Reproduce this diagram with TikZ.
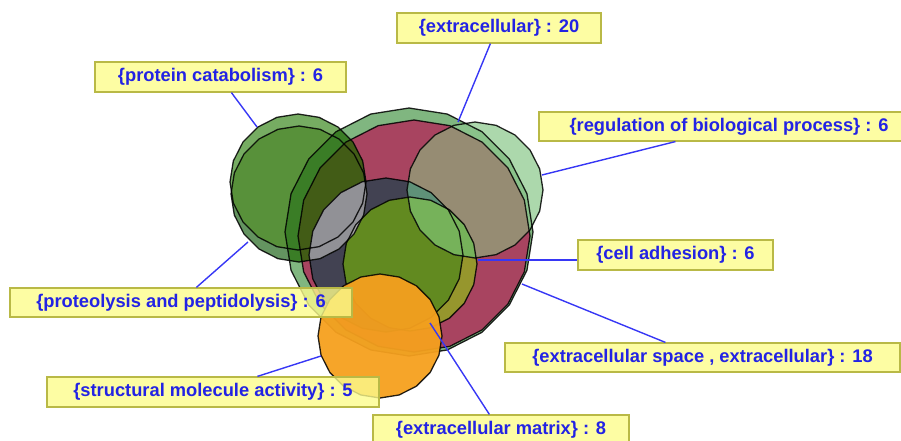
\documentclass[tikz,border=0pt]{standalone}
\usepackage{fontspec}
\setmainfont{Liberation Sans}
\usetikzlibrary{calc}
\definecolor{cEtw}{RGB}{128,182,128}
\definecolor{cRed}{RGB}{168,68,96}
\definecolor{cMat}{RGB}{66,66,82}
\definecolor{cAdh}{RGB}{150,150,45}
\definecolor{cAdhMat}{RGB}{98,138,32}
\definecolor{cAonly}{RGB}{118,172,98}
\definecolor{cBonly}{RGB}{100,148,96}
\definecolor{cAB}{RGB}{88,145,58}
\definecolor{cABe}{RGB}{58,125,38}
\definecolor{cABred}{RGB}{66,92,22}
\definecolor{cABmat}{RGB}{145,145,150}
\definecolor{cABadh}{RGB}{165,165,165}
\definecolor{cRegW}{RGB}{172,216,172}
\definecolor{cRegE}{RGB}{138,194,138}
\definecolor{cRegRed}{RGB}{150,140,115}
\definecolor{cRegMat}{RGB}{95,145,120}
\definecolor{cRegAdh}{RGB}{118,178,90}
\definecolor{cOr}{RGB}{245,160,30}
\definecolor{cLab}{RGB}{252,252,140}
\definecolor{cLabB}{RGB}{185,185,70}
\definecolor{cTxt}{RGB}{35,35,228}
\definecolor{cConn}{RGB}{55,55,245}
\newcommand{\vpoly}[3]{plot[samples=21,domain=0:360,variable=\t]({#1+#3*cos(\t)},{#2+#3*sin(\t)}) -- cycle}
\tikzset{
  outl/.style={draw=black, draw opacity=0.85, line width=1.3pt, line join=round},
  conn/.style={draw=cConn, line width=1.4pt},
  lab/.style={draw=cLabB, line width=1.2pt, fill=cLab, fill opacity=0.8, text opacity=1,
    text=cTxt, font=\fontsize{18.3}{20}\selectfont\bfseries, inner sep=0pt, anchor=center}
}
\begin{document}
\begin{tikzpicture}[x=1pt,y=-1pt]
\useasboundingbox (0,0) rectangle (901,441);
\clip (0,0) rectangle (901,441);
% extracellular (20) and extracellular space (18)
\fill[cEtw] \vpoly{409}{232}{124};
\fill[cRed] \vpoly{414}{236}{116};
% extracellular matrix (8) and cell adhesion (6)
\fill[cMat] \vpoly{386}{255}{77};
\fill[cAdh] \vpoly{410}{264}{67};
\begin{scope}
  \clip \vpoly{410}{264}{67};
  \fill[cAdhMat] \vpoly{386}{255}{77};
\end{scope}
% protein catabolism (A) and proteolysis (B)
\fill[cBonly] \vpoly{299}{194}{68};
\fill[cAonly] \vpoly{298}{182}{68};
\begin{scope}
  \clip \vpoly{298}{182}{68};
  \fill[cAB] \vpoly{299}{194}{68};
\end{scope}
\begin{scope}
  \clip \vpoly{409}{232}{124};
  \fill[cABe] \vpoly{298}{182}{68};
  \fill[cABe] \vpoly{299}{194}{68};
\end{scope}
\begin{scope}
  \clip \vpoly{414}{236}{116};
  \fill[cABred] \vpoly{298}{182}{68};
  \fill[cABred] \vpoly{299}{194}{68};
\end{scope}
\begin{scope}
  \clip \vpoly{386}{255}{77};
  \fill[cABmat] \vpoly{298}{182}{68};
  \fill[cABmat] \vpoly{299}{194}{68};
\end{scope}
\begin{scope}
  \clip \vpoly{386}{255}{77};
  \clip \vpoly{410}{264}{67};
  \fill[cABadh] \vpoly{299}{194}{68};
\end{scope}
% regulation of biological process
\fill[cRegW] \vpoly{475}{190}{68};
\begin{scope}
  \clip \vpoly{475}{190}{68};
  \fill[cRegE] \vpoly{409}{232}{124};
  \fill[cRegRed] \vpoly{414}{236}{116};
  \fill[cRegMat] \vpoly{386}{255}{77};
  \fill[cRegAdh] \vpoly{410}{264}{67};
\end{scope}
% outlines
\draw[outl] \vpoly{409}{232}{124};
\draw[outl] \vpoly{414}{236}{116};
\draw[outl] \vpoly{386}{255}{77};
\draw[outl] \vpoly{410}{264}{67};
\draw[outl] \vpoly{299}{194}{68};
\draw[outl] \vpoly{298}{182}{68};
\draw[outl] \vpoly{475}{190}{68};
% structural molecule activity
\fill[cOr, fill opacity=0.95] \vpoly{380}{336}{62};
\draw[outl] \vpoly{380}{336}{62};
% connector end points
\coordinate (pE20) at (458,122);
\coordinate (pPC) at (257,127);
\coordinate (pREG) at (542,175);
\coordinate (pADH) at (478,260);
\coordinate (pPP) at (248,242);
\coordinate (pE18) at (522,284);
\coordinate (pSMA) at (321,356);
\coordinate (pMAT) at (430,323);
% labels
\node[lab, minimum width=204pt, minimum height=30pt] (lE20) at (499,28) {\{extracellular\} : 20};
\node[lab, minimum width=251pt, minimum height=30pt] (lPC) at (220.5,77) {\{protein catabolism\} : 6};
\node[lab, minimum width=380pt, minimum height=29pt] (lREG) at (729,126.5) {\{regulation of biological process\} : 6};
\node[lab, minimum width=195pt, minimum height=30pt] (lADH) at (675.5,255) {\{cell adhesion\} : 6};
\node[lab, minimum width=342pt, minimum height=29pt] (lPP) at (181,302.5) {\{proteolysis and peptidolysis\} : 6};
\node[lab, minimum width=395pt, minimum height=29pt] (lE18) at (702.5,357.5) {\{extracellular space , extracellular\} : 18};
\node[lab, minimum width=332pt, minimum height=30pt] (lSMA) at (213,392) {\{structural molecule activity\} : 5};
\node[lab, minimum width=256pt, minimum height=30pt] (lMAT) at (501,430) {\{extracellular matrix\} : 8};
% connectors
\draw[conn] (pE20) -- ([xshift=94pt]lE20.south west);
\draw[conn] (pPC) -- ([xshift=137pt]lPC.south west);
\draw[conn] (pREG) -- ([xshift=137pt]lREG.south west);
\draw[conn] (pADH) -- ([yshift=-5pt]lADH.west);
\draw[conn] (pPP) -- ([xshift=187pt]lPP.north west);
\draw[conn] (pE18) -- ([xshift=161pt]lE18.north west);
\draw[conn] (pSMA) -- ([xshift=211pt]lSMA.north west);
\draw[conn] (pMAT) -- ([xshift=117pt]lMAT.north west);
\end{tikzpicture}
\end{document}
